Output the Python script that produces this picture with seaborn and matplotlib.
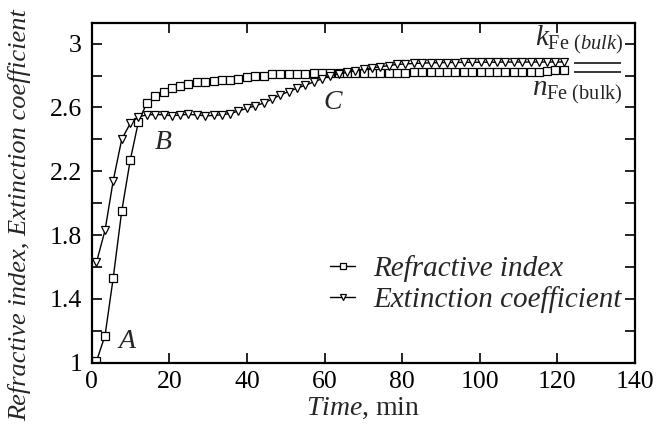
import numpy as np
import pandas as pd
import matplotlib
matplotlib.use("Agg")
import matplotlib.pyplot as plt
import seaborn as sns

# ---------------- data ----------------
time_min = [1.2, 3.4, 5.5, 7.7, 9.9, 12.0, 14.2, 16.3, 18.5, 20.6, 22.8, 24.9, 27.1, 29.2,
            31.4, 33.5, 35.7, 37.8, 40.0, 42.1, 44.3, 46.4, 48.6, 50.7, 52.9, 55.0, 57.2,
            59.3, 61.5, 63.6, 65.8, 67.9, 70.1, 72.2, 74.4, 76.5, 78.7, 80.8, 83.0, 85.1,
            87.3, 89.4, 91.6, 93.7, 95.9, 98.0, 100.2, 102.3, 104.5, 106.6, 108.8, 110.9,
            113.1, 115.2, 117.4, 119.5, 121.7]

refractive_index = [1.01, 1.17, 1.53, 1.95, 2.27, 2.51, 2.63, 2.67, 2.70, 2.72, 2.735, 2.75,
                    2.76, 2.76, 2.765, 2.77, 2.775, 2.78, 2.79, 2.80, 2.80, 2.81, 2.81, 2.81,
                    2.812, 2.812, 2.815, 2.815, 2.815, 2.815, 2.815, 2.817, 2.817, 2.817,
                    2.818, 2.818, 2.818, 2.818, 2.82, 2.82, 2.82, 2.82, 2.82, 2.82, 2.82,
                    2.822, 2.822, 2.822, 2.822, 2.822, 2.822, 2.823, 2.823, 2.823, 2.83,
                    2.832, 2.833]

extinction_coefficient = [1.63, 1.83, 2.14, 2.40, 2.50, 2.54, 2.555, 2.555, 2.555, 2.548,
                          2.553, 2.557, 2.553, 2.548, 2.55, 2.555, 2.562, 2.578, 2.595, 2.61,
                          2.628, 2.652, 2.678, 2.70, 2.72, 2.74, 2.76, 2.78, 2.80, 2.81, 2.82,
                          2.83, 2.84, 2.848, 2.855, 2.863, 2.87, 2.873, 2.876, 2.878, 2.88,
                          2.881, 2.882, 2.882, 2.883, 2.883, 2.884, 2.884, 2.884, 2.885, 2.885,
                          2.885, 2.885, 2.885, 2.885, 2.885, 2.885]

k_bulk = 2.879
n_bulk = 2.823

series_names = ["Refractive index", "Extinction coefficient"]
y_ticklabels = ["1", "1.4", "1.8", "2.2", "2.6", "3"]
x_ticklabels = ["0", "20", "40", "60", "80", "100", "120", "140"]

# ---------------- style ----------------
sns.set_style("ticks")
plt.rcParams["font.family"] = ["Liberation Serif", "DejaVu Serif"]
plt.rcParams["mathtext.fontset"] = "custom"
plt.rcParams["mathtext.rm"] = "Liberation Serif"
plt.rcParams["mathtext.it"] = "Liberation Serif:italic"
plt.rcParams["mathtext.bf"] = "Liberation Serif:bold"

FS = 18.5

df = pd.DataFrame({
    "time": time_min * 2,
    "value": refractive_index + extinction_coefficient,
    "series": [series_names[0]] * len(time_min) + [series_names[1]] * len(time_min),
})

fig = plt.figure(figsize=(6.56, 4.29), dpi=100)
ax = fig.add_axes([0.140, 0.1545, 0.828, 0.792])

sns.lineplot(data=df, x="time", y="value", hue="series", style="series",
             markers={series_names[0]: "s", series_names[1]: "v"},
             dashes=False, palette={series_names[0]: "black", series_names[1]: "black"},
             markersize=5.2, markerfacecolor="white", markeredgecolor="black",
             markeredgewidth=0.9, linewidth=1.0, ax=ax, legend=True)

ax.hlines([k_bulk, n_bulk], 124.2, 136.3, color="black", linewidth=1.1)

ax.set_xlim(0, 140)
ax.set_ylim(1.0, 3.13)
ax.set_xticks([0, 20, 40, 60, 80, 100, 120, 140])
ax.set_xticklabels(x_ticklabels)
yt = [1.0, 1.2, 1.4, 1.6, 1.8, 2.0, 2.2, 2.4, 2.6, 2.8, 3.0]
ax.set_yticks(yt)
lbl = []
j = 0
for i, v in enumerate(yt):
    if i % 2 == 0:
        lbl.append(y_ticklabels[j]); j += 1
    else:
        lbl.append("")
ax.set_yticklabels(lbl)

ax.tick_params(direction="in", length=7, width=1.2, top=True, right=True,
               labelsize=FS, color="black", labelcolor="black")
ax.tick_params(axis="y", pad=7)
ax.tick_params(axis="x", pad=6)
for s in ax.spines.values():
    s.set_linewidth(1.6)
    s.set_color("black")

ax.set_xlabel(r"$\mathit{Time}$, min", fontsize=20, labelpad=2)
ax.set_ylabel("Refractive index, Extinction coefficient", fontsize=19, style="italic")
ax.yaxis.set_label_coords(-0.111, 0.435)

ax.text(9.1, 1.133, "A", fontsize=20, style="italic", ha="center", va="center")
ax.text(18.4, 2.38, "B", fontsize=20, style="italic", ha="center", va="center")
ax.text(62.2, 2.63, "C", fontsize=20, style="italic", ha="center", va="center")

ax.text(136.8, 2.99, r"$k_{\mathrm{Fe}\ \mathit{(bulk)}}$", fontsize=21, ha="right", va="baseline")
ax.text(136.8, 2.675, r"$n_{\mathrm{Fe\ (bulk)}}$", fontsize=21, ha="right", va="baseline")

leg = ax.legend(loc="upper left", bbox_to_anchor=(0.4387, 0.316), frameon=False,
                fontsize=21, handlelength=0.86, handletextpad=0.62, labelspacing=0.12,
                borderpad=0, borderaxespad=0, markerscale=0.7)
for t in leg.get_texts():
    t.set_fontstyle("italic")

fig.savefig("out.png", dpi=100)
